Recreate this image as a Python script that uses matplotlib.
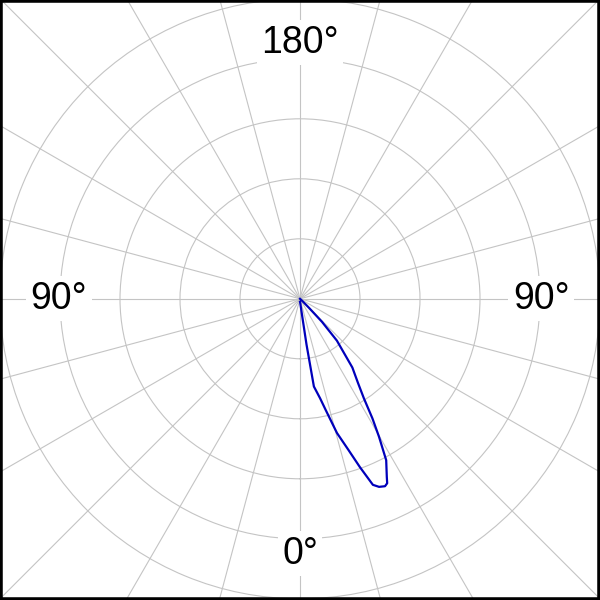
import numpy as np
from matplotlib import pyplot as plt
from matplotlib.patches import Rectangle

# Intensity curve, C0 plane (right half)
gamma_deg = [0, 4, 7, 8.1, 9.0, 11.4, 13.0, 15.4, 17.8, 19.6, 21.4, 22.8, 24.4,
             25.3, 26.0, 28.1, 29.8, 31.2, 32.7, 34.6, 37.3, 41.4, 43.7, 45, 47,
             90, 180]
intensity = [5, 8, 25, 77, 148, 169, 190, 232, 265, 298, 333, 340, 343,
             340, 330, 305, 265, 233, 197, 170, 144, 93, 53, 20, 5,
             0, 0]

ring_values = [100, 200, 300, 400, 500]
spoke_deg = list(range(0, 360, 15))

angle_labels = ['0°', '90°', '180°', '90°']
angle_label_pos = [0, 90, 180, 270]
angle_label_r = [425, 402, 427, 402]

fig = plt.figure(figsize=(6, 6), dpi=100)
fig.patch.set_facecolor('white')

# polar axes bigger than the figure so the spokes run out to the square frame
R = 0.75
ax = fig.add_axes([0.5 - R, 0.5 - R + 0.002, 2 * R, 2 * R], projection='polar')
ax.set_theta_zero_location('S')
ax.set_theta_direction(1)
ax.set_rlim(0, 500 * R / 0.5)
ax.set_thetagrids(spoke_deg, labels=[''] * len(spoke_deg))
ax.set_rgrids(ring_values, labels=[''] * len(ring_values))
ax.grid(True, color='#c4c4c4', linewidth=0.8)
ax.spines['polar'].set_visible(False)
ax.tick_params(length=0)

# the lobe
ax.plot(np.deg2rad(gamma_deg), intensity, color='#0000bb', linewidth=1.6,
        solid_joinstyle='round', zorder=5)

# angle labels with white boxes over the grid
for txt, a, r in zip(angle_labels, angle_label_pos, angle_label_r):
    ax.text(np.deg2rad(a), r, txt, fontsize=27, family='Liberation Sans',
            ha='center', va='center', zorder=4,
            bbox=dict(boxstyle='square,pad=0.12', fc='white', ec='none'))

# black frame around the picture
fig.add_artist(Rectangle((0, 0), 1, 1, transform=fig.transFigure, fill=False,
                         edgecolor='black', linewidth=4, clip_on=False))

plt.savefig('out.png', dpi=100)
